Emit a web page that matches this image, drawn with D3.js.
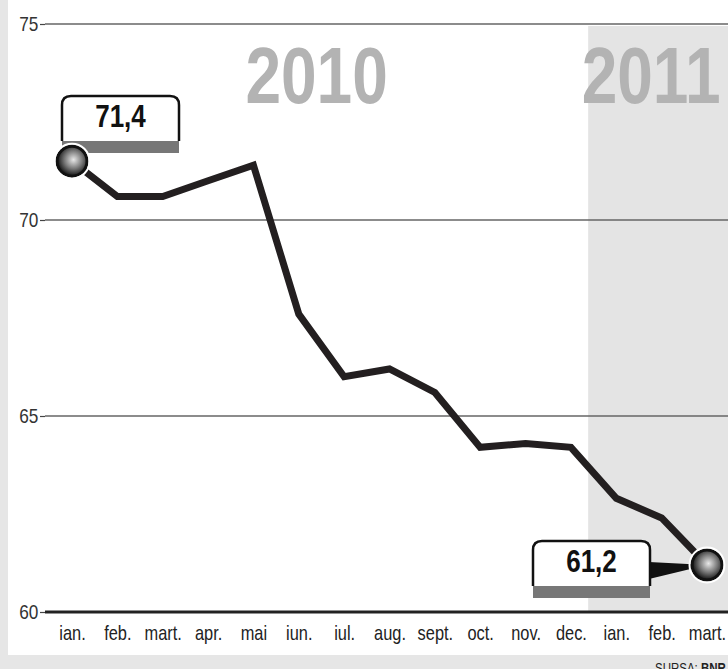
<!DOCTYPE html>
<html>
<head>
<meta charset="utf-8">
<script src="https://cdn.jsdelivr.net/npm/d3@7/dist/d3.min.js"></script>
<style>
  body { margin: 0; background: #e6e6e6; }
  svg { display: block; }
  text { font-family: "Liberation Sans", Arial, sans-serif; }
</style>
</head>
<body>
<div id="chart"></div>
<script>
// data
let months = ["ian.", "feb.", "mart.", "apr.", "mai", "iun.", "iul.", "aug.", "sept.", "oct.", "nov.", "dec.", "ian.", "feb.", "mart."];
let values = [71.5, 70.6, 70.6, 71.0, 71.4, 67.6, 66.0, 66.2, 65.6, 64.2, 64.3, 64.2, 62.9, 62.4, 61.2];
let y_ticks = [60, 65, 70, 75];
let years = ["2010", "2011"];
let year_start = [0, 12];
let callout_index = [0, 14];
let callout_text = ["71,4", "61,2"];

let width = 728;
let height = 669;
let margin = {top: 24, right: 0, bottom: 57, left: 45};
let narrow = "scale(0.82,1)";

let svg = d3.select("#chart")
            .append("svg")
            .attr("width", width)
            .attr("height", height);

// grey frame, white panel
svg.append("rect").attr("width", width).attr("height", height).style("fill", "#e6e6e6");
svg.append("rect").attr("x", 8).attr("y", 0).attr("width", width - 8).attr("height", 655).style("fill", "#fff");

let x = d3.scalePoint()
          .domain(d3.range(values.length))
          .range([72, 707]);

let y = d3.scaleLinear()
          .domain([60, 75])
          .range([height - margin.bottom, margin.top]);

let step = x.step();

// 2011 shaded band
let band_x = x(year_start[1] - 1) + step * 0.38;
svg.append("rect")
   .attr("x", band_x)
   .attr("y", y(75) + 2)
   .attr("width", width - band_x)
   .attr("height", y(60) - y(75) - 2)
   .style("fill", "#e4e4e4");

// year labels, centred in their part of the plot (the 2011 one pulled in a bit)
let year_left = [margin.left, band_x];
let year_right = [band_x, width - 14];
svg.selectAll(".year")
   .data(years)
   .enter()
   .append("text")
   .attr("class", "year")
   .attr("transform", (d, i) => "translate(" + ((year_left[i] + year_right[i]) / 2) + ",103) scale(0.8,1)")
   .attr("text-anchor", "middle")
   .style("font-size", "80px")
   .style("font-weight", "bold")
   .style("fill", "#b3b3b3")
   .text(d => d);

// gridlines
svg.append("g")
   .selectAll("line")
   .data(y_ticks)
   .enter()
   .append("line")
   .attr("x1", margin.left)
   .attr("x2", width)
   .attr("y1", d => y(d))
   .attr("y2", d => y(d))
   .style("stroke", d => d === 60 ? "#222" : "#666")
   .style("stroke-width", d => d === 60 ? 3 : 1.5);

// y axis
svg.append("g")
   .attr("transform", "translate(" + margin.left + ",0)")
   .call(d3.axisLeft(y).tickValues(y_ticks).tickSize(5).tickPadding(3))
   .call(g => g.select(".domain").remove())
   .call(g => g.selectAll("line").attr("stroke", "#444").attr("stroke-width", 1.2))
   .call(g => g.selectAll("text")
               .attr("fill", "#333")
               .attr("transform", narrow)
               .style("font-family", "'Liberation Sans', Arial, sans-serif")
               .style("font-size", "21px"));

// x axis
svg.append("g")
   .attr("transform", "translate(0," + y(60) + ")")
   .call(d3.axisBottom(x).tickFormat(i => months[i]).tickSize(0).tickPadding(14))
   .call(g => g.select(".domain").remove())
   .call(g => g.selectAll("text")
               .attr("fill", "#222")
               .attr("transform", narrow)
               .style("font-family", "'Liberation Sans', Arial, sans-serif")
               .style("font-size", "20px"));

// line
let line = d3.line()
             .x((d, i) => x(i))
             .y(d => y(d));

svg.append("path")
   .datum(values)
   .attr("d", line)
   .style("fill", "none")
   .style("stroke", "#231f20")
   .style("stroke-width", 7)
   .style("stroke-linejoin", "miter");

// ball gradient
let grad = svg.append("defs")
              .append("radialGradient")
              .attr("id", "ball")
              .attr("cx", "55%")
              .attr("cy", "45%")
              .attr("r", "55%");
grad.append("stop").attr("offset", "0%").attr("stop-color", "#e8e8e8");
grad.append("stop").attr("offset", "55%").attr("stop-color", "#777");
grad.append("stop").attr("offset", "100%").attr("stop-color", "#111");

// callouts
function callout(px, py, bx, by, label, pointer) {
  let w = 117, h = 45;
  let g = svg.append("g");
  if (pointer) {
    g.append("path")
     .attr("d", "M " + (bx + w - 1) + " " + (by + 21) + " L " + px + " " + py + " L " + (bx + w - 1) + " " + (by + 38) + " Z")
     .style("fill", "#111");
  }
  g.append("rect")
   .attr("x", bx)
   .attr("y", by + h - 2)
   .attr("width", w)
   .attr("height", 14)
   .style("fill", "#777");
  g.append("path")
   .attr("d", "M " + bx + " " + (by + h) + " V " + (by + 9) + " Q " + bx + " " + by + " " + (bx + 9) + " " + by +
              " H " + (bx + w - 9) + " Q " + (bx + w) + " " + by + " " + (bx + w) + " " + (by + 9) + " V " + (by + h))
   .style("fill", "#fff")
   .style("stroke", "#111")
   .style("stroke-width", 2.5);
  g.append("text")
   .attr("transform", "translate(" + (bx + w / 2) + "," + (by + 31) + ") scale(0.84,1)")
   .attr("text-anchor", "middle")
   .style("font-size", "31px")
   .style("font-weight", "bold")
   .style("fill", "#111")
   .text(label);
}

callout(x(callout_index[0]), y(values[callout_index[0]]), 62, 96, callout_text[0], false);
callout(x(callout_index[1]), y(values[callout_index[1]]), 533, 541, callout_text[1], true);

svg.selectAll(".ball")
   .data(callout_index)
   .enter()
   .append("circle")
   .attr("class", "ball")
   .attr("cx", d => x(d))
   .attr("cy", d => y(values[d]))
   .attr("r", 15)
   .style("fill", "url(#ball)")
   .style("stroke", "#111")
   .style("stroke-width", 3);

svg.selectAll(".halo")
   .data(callout_index)
   .enter()
   .append("circle")
   .attr("class", "halo")
   .attr("cx", d => x(d))
   .attr("cy", d => y(values[d]))
   .attr("r", 17.5)
   .style("fill", "none")
   .style("stroke", "#fff")
   .style("stroke-width", 2);

// source (cut off by the bottom edge, as in the original)
let src = svg.append("text")
             .attr("transform", "translate(655,673) scale(0.82,1)")
             .style("font-size", "14px")
             .style("fill", "#222");
src.append("tspan").text("SURSA: ");
src.append("tspan").style("font-weight", "bold").text("BNR");
</script>
</body>
</html>
